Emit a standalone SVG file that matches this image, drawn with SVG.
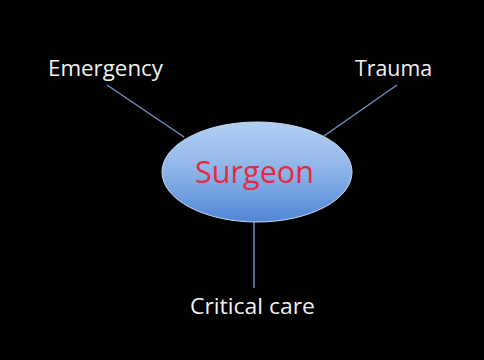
<svg xmlns="http://www.w3.org/2000/svg" width="484" height="360" viewBox="0 0 484 360">
<defs>
<linearGradient id="g" x1="0" y1="0" x2="0" y2="1">
<stop offset="0" stop-color="#b3cff2"/>
<stop offset="0.5" stop-color="#8cb3e8"/>
<stop offset="1" stop-color="#4f86d6"/>
</linearGradient>
<style>
.lbl{font-family:"Open Sans","Liberation Sans",sans-serif;font-size:22px;fill:#f2f2f2;}
.con{stroke:#6f8fbf;stroke-width:1.5;fill:none;}
</style>
</defs>
<rect width="484" height="360" fill="#000"/>
<g id="connectors">
<line class="con" x1="107" y1="85" x2="184" y2="137"/>
<line class="con" x1="397" y1="85" x2="324" y2="136"/>
<line class="con" x1="254" y1="221" x2="254" y2="288" stroke="#4a7fd0"/>
</g>
<g id="surgeon">
<ellipse cx="257" cy="172" rx="95" ry="50" fill="url(#g)" stroke="#c8d8f0" stroke-width="1"/>
<text x="195" y="183" textLength="119" lengthAdjust="spacingAndGlyphs" font-family="Open Sans, Liberation Sans, sans-serif" font-size="31" fill="#e8283c">Surgeon</text>
</g>
<g id="emergency"><text class="lbl" x="48" y="76" textLength="115" lengthAdjust="spacingAndGlyphs">Emergency</text></g>
<g id="trauma"><text class="lbl" x="355" y="76" textLength="77" lengthAdjust="spacingAndGlyphs">Trauma</text></g>
<g id="critical"><text class="lbl" x="190" y="314" textLength="125" lengthAdjust="spacingAndGlyphs">Critical care</text></g>
</svg>
